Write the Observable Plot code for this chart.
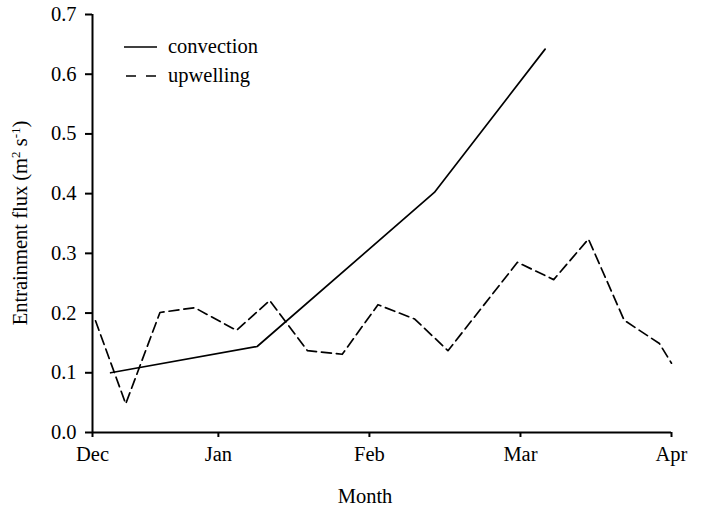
<!DOCTYPE html>
<html>
<head>
<meta charset="utf-8">
<script src="https://cdn.jsdelivr.net/npm/d3@7"></script>
<script src="https://cdn.jsdelivr.net/npm/@observablehq/plot@0.6"></script>
<style>
  html, body { margin: 0; padding: 0; background: #fff; }
</style>
</head>
<body>
<div id="chart"></div>
<script>
// Time axis in days from the start of December
const monthTicks = [0, 25, 55, 85, 115];
const monthLabels = ["Dec", "Jan", "Feb", "Mar", "Apr"];

// Convection-driven entrainment flux (m2 s-1)
const convectionDay = [3.6, 32.7, 67.9, 89.9];
const convectionFlux = [0.100, 0.144, 0.402, 0.642];

// Upwelling-driven entrainment flux (m2 s-1)
const upwellingDay = [0.6, 6.6, 13.4, 20.3, 28.6, 35.2, 42.7, 49.6, 56.7, 64.0, 70.6, 84.4, 91.6, 98.5, 105.6, 112.6, 115.0];
const upwellingFlux = [0.187, 0.048, 0.201, 0.209, 0.171, 0.221, 0.137, 0.131, 0.214, 0.190, 0.137, 0.285, 0.256, 0.324, 0.188, 0.149, 0.116];

const yTicks = [0, 0.1, 0.2, 0.3, 0.4, 0.5, 0.6, 0.7];

const convection = convectionDay.map((d, i) => ({day: d, flux: convectionFlux[i]}));
const upwelling = upwellingDay.map((d, i) => ({day: d, flux: upwellingFlux[i]}));

const font = "'Liberation Serif', 'Times New Roman', serif";
const fontSize = 20.5;

const plot = Plot.plot({
  width: 701,
  height: 507,
  marginTop: 14,
  marginBottom: 75,
  marginLeft: 92,
  marginRight: 30,
  style: {fontFamily: font, fontSize: fontSize + "px", color: "#000", background: "#fff"},
  x: {domain: [0, 115]},
  y: {domain: [0, 0.7]},
  marks: [
    Plot.axisX({
      ticks: monthTicks,
      tickFormat: (d) => monthLabels[monthTicks.indexOf(d)],
      tickSize: 5,
      tickPadding: 9,
      strokeWidth: 2,
      fontSize,
      label: null
    }),
    Plot.axisY({
      ticks: yTicks,
      tickFormat: (d) => d.toFixed(1),
      tickSize: 7,
      tickPadding: 9,
      strokeWidth: 2,
      fontSize,
      label: null
    }),
    Plot.ruleX([0], {stroke: "#000", strokeWidth: 2}),
    Plot.ruleY([0], {stroke: "#000", strokeWidth: 2}),
    Plot.line(upwelling, {x: "day", y: "flux", stroke: "#000", strokeWidth: 1.7, strokeDasharray: "10,5"}),
    Plot.line(convection, {x: "day", y: "flux", stroke: "#000", strokeWidth: 1.7}),
    Plot.text(["Month"], {frameAnchor: "bottom", dx: -17, dy: 70, fontSize})
  ]
});

const svg = d3.select(plot);

// Vertical axis title with superscript units
const yTitle = svg.append("text")
  .attr("transform", "translate(27,223) rotate(-90)")
  .attr("text-anchor", "middle")
  .attr("font-family", font)
  .attr("font-size", fontSize)
  .attr("fill", "#000");
yTitle.append("tspan").text("Entrainment flux (m");
yTitle.append("tspan").attr("font-size", 13).attr("dy", -7).text("2");
yTitle.append("tspan").attr("dy", 7).text(" s");
yTitle.append("tspan").attr("font-size", 13).attr("dy", -7).text("-1");
yTitle.append("tspan").attr("dy", 7).text(")");

// Legend in the upper-left corner of the frame
const legend = svg.append("g")
  .attr("font-family", font)
  .attr("font-size", fontSize)
  .attr("text-anchor", "start");
const items = [
  {label: "convection", dash: null, x1: 124, y: 47},
  {label: "upwelling", dash: "10,10", x1: 126, y: 76}
];
for (const it of items) {
  legend.append("line")
    .attr("x1", it.x1).attr("x2", 157)
    .attr("y1", it.y).attr("y2", it.y)
    .attr("stroke", "#000").attr("stroke-width", 1.7)
    .attr("stroke-dasharray", it.dash);
  legend.append("text")
    .attr("x", 168).attr("y", it.y).attr("dy", "0.3em")
    .attr("fill", "#000")
    .text(it.label);
}

document.getElementById("chart").appendChild(plot);
</script>
</body>
</html>
